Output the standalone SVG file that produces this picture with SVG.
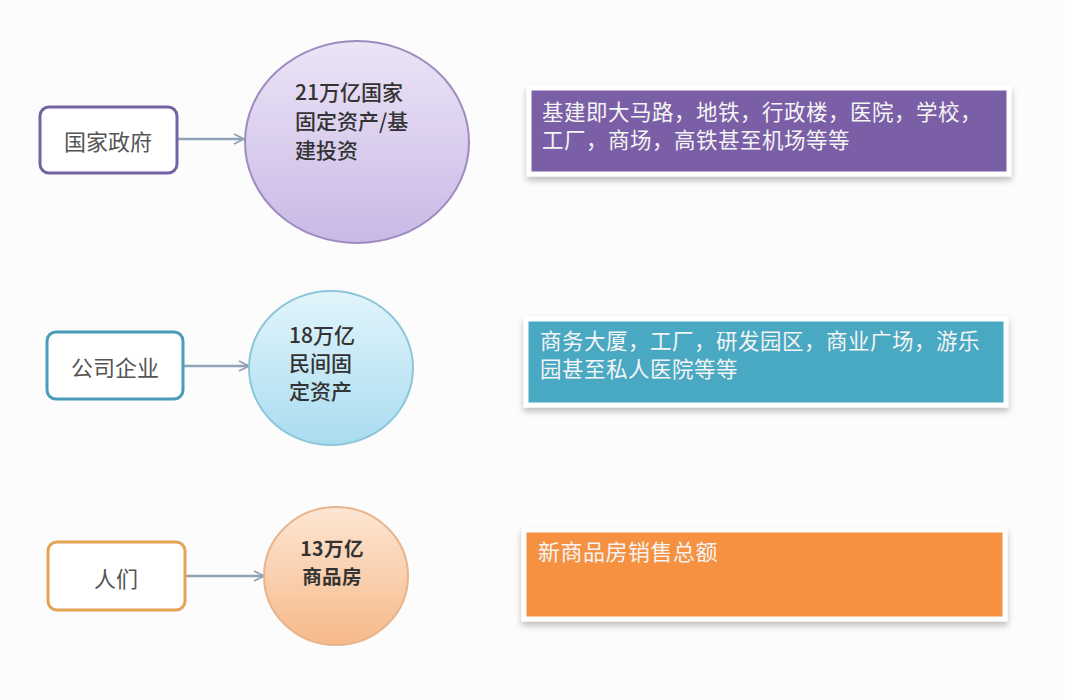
<svg xmlns="http://www.w3.org/2000/svg" width="1065" height="700" viewBox="0 0 1065 700">
<style>
  text { font-family: "Noto Sans CJK SC", "Liberation Sans", sans-serif; }
  .src { fill: #ffffff; stroke-width: 3; }
  .srclabel { font-size: 22px; fill: #555555; text-anchor: middle; dominant-baseline: central; }
  .circ { stroke-width: 2; }
  .clabel { font-size: 21px; fill: #333333; font-weight: 500; }
  .small { font-size: 19.5px; font-weight: 700; letter-spacing: 0.4px; }
  .band { stroke: #ffffff; stroke-width: 5; filter: url(#shadow); }
  .blabel { font-size: 21.5px; fill: #f4f4f4; letter-spacing: 0.5px; }
  .conn { stroke: #8fa2b6; stroke-width: 2.5; fill: none; marker-end: url(#arrow); }
</style>
<defs>
  <marker id="arrow" viewBox="0 0 12 12" refX="11" refY="6" markerWidth="12" markerHeight="12" markerUnits="userSpaceOnUse" orient="auto">
    <path d="M1,1 L11,6 L1,11" fill="none" stroke="#8fa2b6" stroke-width="1.8"/>
  </marker>
  <linearGradient id="gPurple" x1="0" y1="0" x2="0" y2="1">
    <stop offset="0" stop-color="#ece4f6"/>
    <stop offset="1" stop-color="#c9b9e6"/>
  </linearGradient>
  <linearGradient id="gCyan" x1="0" y1="0" x2="0" y2="1">
    <stop offset="0" stop-color="#e2f5fb"/>
    <stop offset="1" stop-color="#a9dcf0"/>
  </linearGradient>
  <linearGradient id="gPeach" x1="0" y1="0" x2="0" y2="1">
    <stop offset="0" stop-color="#fde6d3"/>
    <stop offset="1" stop-color="#f6b98a"/>
  </linearGradient>
  <filter id="shadow" x="-5%" y="-20%" width="110%" height="150%">
    <feDropShadow dx="0" dy="4" stdDeviation="3" flood-color="#000000" flood-opacity="0.25"/>
  </filter>
</defs>
<rect x="0" y="0" width="1065" height="700" fill="#fcfcfc"/>

<g id="connectors">
  <line class="conn" x1="178" y1="139" x2="244" y2="139"/>
  <line class="conn" x1="184" y1="366" x2="249" y2="366"/>
  <line class="conn" x1="186" y1="576" x2="264" y2="576"/>
</g>

<g id="node-gov">
  <rect class="src" x="40" y="107" width="137" height="66" rx="9" stroke="#7562a3"/>
  <text class="srclabel" x="108" y="140">国家政府</text>
</g>
<g id="node-gov-circle">
  <ellipse class="circ" cx="357" cy="142" rx="112" ry="101" fill="url(#gPurple)" stroke="#9c8cbf"/>
  <text class="clabel" x="295" y="100">21万亿国家</text>
  <text class="clabel" x="295" y="129">固定资产/基</text>
  <text class="clabel" x="295" y="158">建投资</text>
</g>
<g id="node-gov-band">
  <rect class="band" x="529" y="88" width="480" height="86" fill="#7a5fa6"/>
  <text class="blabel" x="542" y="120">基建即大马路，地铁，行政楼，医院，学校，</text>
  <text class="blabel" x="542" y="148">工厂，商场，高铁甚至机场等等</text>
</g>

<g id="node-corp">
  <rect class="src" x="47" y="332" width="136" height="67" rx="9" stroke="#4b9cba"/>
  <text class="srclabel" x="115" y="366">公司企业</text>
</g>
<g id="node-corp-circle">
  <ellipse class="circ" cx="331" cy="368" rx="82" ry="77" fill="url(#gCyan)" stroke="#8cc6da"/>
  <text class="clabel" x="289" y="343">18万亿</text>
  <text class="clabel" x="289" y="371">民间固</text>
  <text class="clabel" x="289" y="399">定资产</text>
</g>
<g id="node-corp-band">
  <rect class="band" x="526" y="319" width="480" height="86" fill="#4aa8c2"/>
  <text class="blabel" x="540" y="349">商务大厦，工厂，研发园区，商业广场，游乐</text>
  <text class="blabel" x="540" y="377">园甚至私人医院等等</text>
</g>

<g id="node-people">
  <rect class="src" x="48" y="542" width="137" height="68" rx="9" stroke="#e3a456"/>
  <text class="srclabel" x="116" y="577">人们</text>
</g>
<g id="node-people-circle">
  <ellipse class="circ" cx="336" cy="576" rx="72" ry="69" fill="url(#gPeach)" stroke="#e7b48c"/>
  <text class="clabel small" x="332" y="556" text-anchor="middle">13万亿</text>
  <text class="clabel small" x="332" y="584" text-anchor="middle">商品房</text>
</g>
<g id="node-people-band">
  <rect class="band" x="524" y="530" width="481" height="89" fill="#f5913f"/>
  <text class="blabel" x="538" y="560" style="font-size:22px">新商品房销售总额</text>
</g>
</svg>
